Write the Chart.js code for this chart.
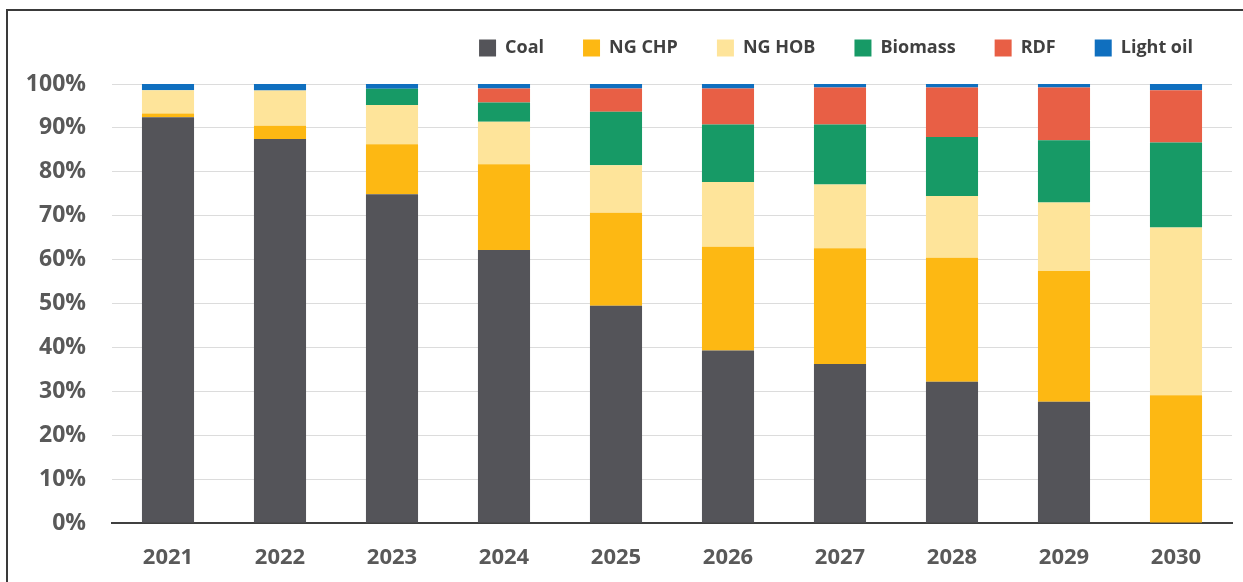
<!DOCTYPE html>
<html>
<head>
<meta charset="utf-8">
<script src="https://cdn.jsdelivr.net/npm/chart.js@4.4.1/dist/chart.umd.min.js"></script>
<style>
  html, body { margin: 0; padding: 0; background: #fff; }
  .wrap { position: relative; width: 1243px; height: 582px; }
  .frame {
    position: absolute; left: 6px; top: 9px; right: 0; bottom: 0;
    border-top: 2px solid #3a3a3a; border-left: 2px solid #3a3a3a;
    pointer-events: none;
  }
</style>
</head>
<body>
<div class="wrap">
  <canvas id="mix" width="1243" height="582"></canvas>
  <div class="frame"></div>
</div>
<script>
// heat supply mix by year, shares in %
const years = ['2021', '2022', '2023', '2024', '2025', '2026', '2027', '2028', '2029', '2030'];
const coal     = [92.4, 87.5, 74.9, 62.2, 49.5, 39.3, 36.2, 32.2, 27.6, 0];
const ngChp    = [0.9, 3.0, 11.4, 19.5, 21.2, 23.6, 26.4, 28.2, 29.8, 29.1];
const ngHob    = [5.3, 8.0, 8.9, 9.7, 10.8, 14.8, 14.5, 14.1, 15.6, 38.2];
const biomass  = [0, 0, 3.7, 4.4, 12.2, 13.1, 13.7, 13.4, 14.2, 19.4];
const rdf      = [0, 0, 0, 3.2, 5.3, 8.2, 8.4, 11.3, 12.0, 11.9];
const lightOil = [1.4, 1.5, 1.1, 1.0, 1.0, 1.0, 0.8, 0.8, 0.8, 1.4];
const yTicks = [0, 10, 20, 30, 40, 50, 60, 70, 80, 90, 100];

const FONT = '"Open Sans", "DejaVu Sans", sans-serif';

// keep the legend short so the plot starts where the original does
const legendHeight = {
  id: 'legendHeight',
  beforeInit(chart) {
    const fit = chart.legend.fit;
    chart.legend.fit = function () {
      fit.bind(chart.legend)();
      this.height = 84;
    };
  }
};

const bar = (label, data, color) => ({
  label: label,
  data: data,
  backgroundColor: color,
  borderColor: color,
  borderWidth: 0,
  barPercentage: 0.465,
  categoryPercentage: 1.0,
});

new Chart(document.getElementById('mix'), {
  type: 'bar',
  data: {
    labels: years,
    datasets: [
      bar('Coal', coal, '#545459'),
      bar('NG CHP', ngChp, '#fdb813'),
      bar('NG HOB', ngHob, '#fee49a'),
      bar('Biomass', biomass, '#179a66'),
      bar('RDF', rdf, '#e85f45'),
      bar('Light oil', lightOil, '#0f6fbf'),
    ],
  },
  options: {
    responsive: false,
    animation: false,
    layout: { padding: { left: 0, right: 11, top: 0, bottom: 0 } },
    plugins: {
      tooltip: { enabled: false },
      legend: {
        position: 'top',
        align: 'end',
        labels: {
          boxWidth: 17,
          boxHeight: 17,
          padding: 39,
          color: '#404040',
          font: { family: FONT, size: 18, weight: 'bold' },
        },
      },
    },
    scales: {
      x: {
        stacked: true,
        afterFit(scale) { scale.height = 59; },
        grid: { display: false, drawTicks: false },
        border: { display: true, color: '#404040', width: 2 },
        ticks: {
          padding: 22,
          color: '#595959',
          font: { family: FONT, size: 22, weight: 'bold' },
        },
      },
      y: {
        stacked: true,
        min: 0,
        max: 100,
        afterFit(scale) { scale.width = 112; },
        afterBuildTicks(scale) { scale.ticks = yTicks.map(v => ({ value: v })); },
        grid: { color: '#dcdcdc', lineWidth: 1, drawTicks: false },
        border: { display: false },
        ticks: {
          padding: 26,
          color: '#595959',
          font: { family: FONT, size: 23, weight: 'bold' },
          callback: v => v + '%',
        },
      },
    },
  },
  plugins: [legendHeight],
});
</script>
</body>
</html>
